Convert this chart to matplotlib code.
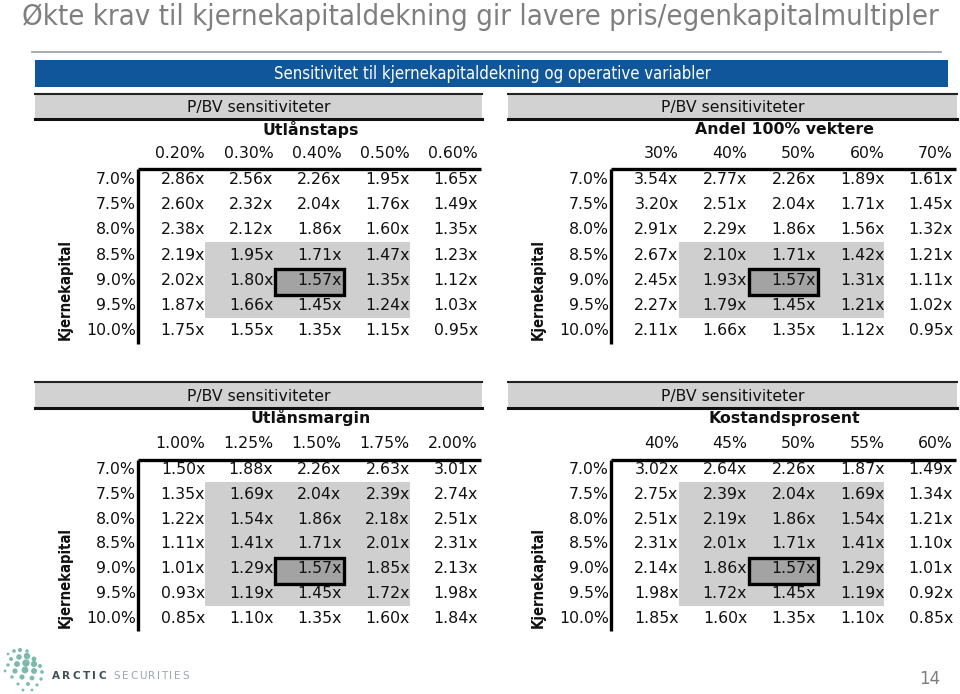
import matplotlib
matplotlib.use("Agg")
import matplotlib.pyplot as plt
from matplotlib.patches import Rectangle
from matplotlib import font_manager

# ---------------- data ----------------
title = "Økte krav til kjernekapitaldekning gir lavere pris/egenkapitalmultipler"
banner = "Sensitivitet til kjernekapitaldekning og operative variabler"
header = "P/BV sensitiviteter"
row_axis_label = "Kjernekapital"
rows = ["7.0%", "7.5%", "8.0%", "8.5%", "9.0%", "9.5%", "10.0%"]

t1_name = "Utlånstaps"
t1_cols = ["0.20%", "0.30%", "0.40%", "0.50%", "0.60%"]
t1_vals = [[2.86, 2.56, 2.26, 1.95, 1.65],
           [2.60, 2.32, 2.04, 1.76, 1.49],
           [2.38, 2.12, 1.86, 1.60, 1.35],
           [2.19, 1.95, 1.71, 1.47, 1.23],
           [2.02, 1.80, 1.57, 1.35, 1.12],
           [1.87, 1.66, 1.45, 1.24, 1.03],
           [1.75, 1.55, 1.35, 1.15, 0.95]]

t2_name = "Andel 100% vektere"
t2_cols = ["30%", "40%", "50%", "60%", "70%"]
t2_vals = [[3.54, 2.77, 2.26, 1.89, 1.61],
           [3.20, 2.51, 2.04, 1.71, 1.45],
           [2.91, 2.29, 1.86, 1.56, 1.32],
           [2.67, 2.10, 1.71, 1.42, 1.21],
           [2.45, 1.93, 1.57, 1.31, 1.11],
           [2.27, 1.79, 1.45, 1.21, 1.02],
           [2.11, 1.66, 1.35, 1.12, 0.95]]

t3_name = "Utlånsmargin"
t3_cols = ["1.00%", "1.25%", "1.50%", "1.75%", "2.00%"]
t3_vals = [[1.50, 1.88, 2.26, 2.63, 3.01],
           [1.35, 1.69, 2.04, 2.39, 2.74],
           [1.22, 1.54, 1.86, 2.18, 2.51],
           [1.11, 1.41, 1.71, 2.01, 2.31],
           [1.01, 1.29, 1.57, 1.85, 2.13],
           [0.93, 1.19, 1.45, 1.72, 1.98],
           [0.85, 1.10, 1.35, 1.60, 1.84]]

t4_name = "Kostandsprosent"
t4_cols = ["40%", "45%", "50%", "55%", "60%"]
t4_vals = [[3.02, 2.64, 2.26, 1.87, 1.49],
           [2.75, 2.39, 2.04, 1.69, 1.34],
           [2.51, 2.19, 1.86, 1.54, 1.21],
           [2.31, 2.01, 1.71, 1.41, 1.10],
           [2.14, 1.86, 1.57, 1.29, 1.01],
           [1.98, 1.72, 1.45, 1.19, 0.92],
           [1.85, 1.60, 1.35, 1.10, 0.85]]

# shaded block (first row, last row, first col, last col) and base case cell
t1_shade = (3, 5, 1, 3)
t2_shade = (3, 5, 1, 3)
t3_shade = (1, 5, 1, 3)
t4_shade = (1, 5, 1, 3)
base_cell = (4, 2)

page_number = "14"
brand1 = "ARCTIC"
brand2 = "SECURITIES"

# ---------------- styling / layout ----------------
W, H = 960, 694
FS = 11.3
SHADE = "#cfcfcf"
BASE = "#a3a3a3"
BARGREY = "#d2d2d2"
BLUE = "#10569b"
TXT = "#111111"

installed = {f.name for f in font_manager.fontManager.ttflist}
NARROW = "Liberation Sans Narrow" if "Liberation Sans Narrow" in installed else "DejaVu Sans"

fig = plt.figure(figsize=(W / 100, H / 100), dpi=100)
bg = fig.add_axes([0, 0, 1, 1])
bg.set_xlim(0, W)
bg.set_ylim(H, 0)
bg.axis("off")
fig.canvas.draw()
renderer = fig.canvas.get_renderer()


def fit_text(ax, x, y, s, target, vertical=False, **kw):
    t = ax.text(x, y, s, **kw)
    ext = t.get_window_extent(renderer)
    size = ext.height if vertical else ext.width
    t.set_fontsize(t.get_fontsize() * target / size)
    return t


# title
fit_text(bg, 22, 17, title, 913, fontsize=20, color="#7f7f7f", ha="left",
         va="center", family="DejaVu Sans", fontstretch="condensed")
bg.plot([32, 941], [52, 52], color="#a0a4aa", lw=1.3)

# banner
bg.add_patch(Rectangle((35, 60), 913, 27, facecolor=BLUE, edgecolor="none"))
fit_text(bg, 492, 74, banner, 436, fontsize=12, color="white", ha="center",
         va="center", family="DejaVu Sans", fontstretch="condensed")


def draw_table(gx0, gx1, gy0, gy1, bar_top, bar_bot, sub_y, col_y,
               name, cols, vals, shade):
    ax = fig.add_axes([gx0 / W, 1 - gy1 / H, (gx1 - gx0) / W, (gy1 - gy0) / H])
    ncol, nrow = len(cols), len(rows)
    ax.set_xlim(-0.5, ncol - 0.5)
    ax.set_ylim(nrow - 0.5, -0.5)
    ax.axis("off")
    cw = (gx1 - gx0) / ncol
    rh = (gy1 - gy0) / nrow

    def px(x):
        return -0.5 + (x - gx0) / cw

    def py(y):
        return -0.5 + (y - gy0) / rh

    # shaded block
    r0, r1, c0, c1 = shade
    ax.add_patch(Rectangle((c0 - 0.5 - 3 / cw, r0 - 0.5), c1 - c0 + 1, r1 - r0 + 1,
                           facecolor=SHADE, edgecolor="none", zorder=1))
    br, bc = base_cell
    ax.add_patch(Rectangle((bc - 0.5 - 1 / cw, br - 0.45), 1, 1.05,
                           facecolor=BASE, edgecolor="black", lw=2.4, zorder=2))

    # values
    for i, row in enumerate(vals):
        for j, v in enumerate(row):
            ax.text(j + 0.5 - 3 / cw, i, f"{v:.2f}x", ha="right", va="center",
                    fontsize=FS, color=TXT, zorder=3, clip_on=False)
    # row labels
    for i, r in enumerate(rows):
        ax.text(px(gx0 - 4), i, r, ha="right", va="center", fontsize=FS,
                color=TXT, clip_on=False)
    # column labels
    for j, c in enumerate(cols):
        ax.text(j + 0.5 - 3 / cw, py(col_y), c, ha="right", va="center",
                fontsize=FS, color=TXT, clip_on=False)
    # axis lines
    ax.plot([px(gx0 - 2), ncol - 0.5], [py(gy0 + 2), py(gy0 + 2)],
            color="black", lw=2.4, clip_on=False, solid_capstyle="butt")
    ax.plot([px(gx0 - 2), px(gx0 - 2)], [py(gy0 + 2), nrow - 0.5],
            color="black", lw=2.4, clip_on=False, solid_capstyle="butt")
    # grey header bar
    bx0 = gx0 - 105
    bx1 = gx1 + 1
    ax.add_patch(Rectangle((px(bx0), py(bar_top)), (bx1 - bx0) / cw,
                           (bar_bot - bar_top) / rh, facecolor=BARGREY,
                           edgecolor="none", clip_on=False))
    ax.plot([px(bx0), px(bx1)], [py(bar_top), py(bar_top)], color="#222222",
            lw=1.5, clip_on=False)
    ax.plot([px(bx0), px(bx1)], [py(bar_bot), py(bar_bot)], color="#111111",
            lw=2.2, clip_on=False)
    ax.text(px((bx0 + bx1) / 2), py((bar_top + bar_bot) / 2 + 1), header,
            ha="center", va="center", fontsize=FS, color=TXT, clip_on=False)
    # variable name
    ax.text(px((gx0 + gx1) / 2), py(sub_y), name, ha="center", va="center",
            fontsize=FS, fontweight="bold", color=TXT, clip_on=False)
    # row axis label
    fit_text(ax, px(gx0 - 75), py(gy1 - 3), row_axis_label, 101, vertical=True,
             rotation=90, ha="center", va="bottom", fontsize=FS,
             fontweight="bold", family=NARROW, fontstretch="condensed",
             color=TXT, clip_on=False)
    return ax


draw_table(140, 481, 166.5, 343.5, 94, 119, 129, 153, t1_name, t1_cols, t1_vals, t1_shade)
draw_table(613, 956, 166.5, 343.5, 94, 119, 129, 153, t2_name, t2_cols, t2_vals, t2_shade)
draw_table(140, 481, 457.5, 630.5, 382, 408, 418, 443, t3_name, t3_cols, t3_vals, t3_shade)
draw_table(613, 956, 457.5, 630.5, 382, 408, 418, 443, t4_name, t4_cols, t4_vals, t4_shade)

# footer: logo dots (decorative)
logo_x = [8, 14, 20, 27, 11, 19, 27, 34, 8, 17, 26, 34, 40, 5, 15, 25, 34, 42, 12, 22, 32, 41, 18, 28, 37, 23, 32]
logo_y = [654, 651, 650, 651, 659, 657, 656, 659, 665, 664, 663, 664, 666, 671, 671, 670, 671, 672, 677, 677, 678, 679, 684, 684, 685, 690, 690]
logo_s = [4, 7, 9, 6, 8, 16, 22, 12, 6, 18, 28, 20, 8, 4, 14, 24, 18, 7, 6, 14, 12, 6, 5, 8, 5, 4, 4]
bg.scatter(logo_x, logo_y, s=logo_s, color="#6eb3a0", edgecolors="none", alpha=0.9)

# letter-spaced brand name
bx = 52.0
for ch in brand1:
    t = bg.text(bx, 676, ch, ha="left", va="center", fontsize=7.5,
                color="#3f4d58", family="DejaVu Sans", fontweight="semibold")
    bx += t.get_window_extent(renderer).width + 2.4
bx += 5
for ch in brand2:
    t = bg.text(bx, 676, ch, ha="left", va="center", fontsize=7.5,
                color="#9aa6b0", family="DejaVu Sans")
    bx += t.get_window_extent(renderer).width + 1.6
bg.text(930, 679, page_number, ha="center", va="center", fontsize=12,
        color="#7f7f7f")

fig.savefig("out.png", dpi=100)
